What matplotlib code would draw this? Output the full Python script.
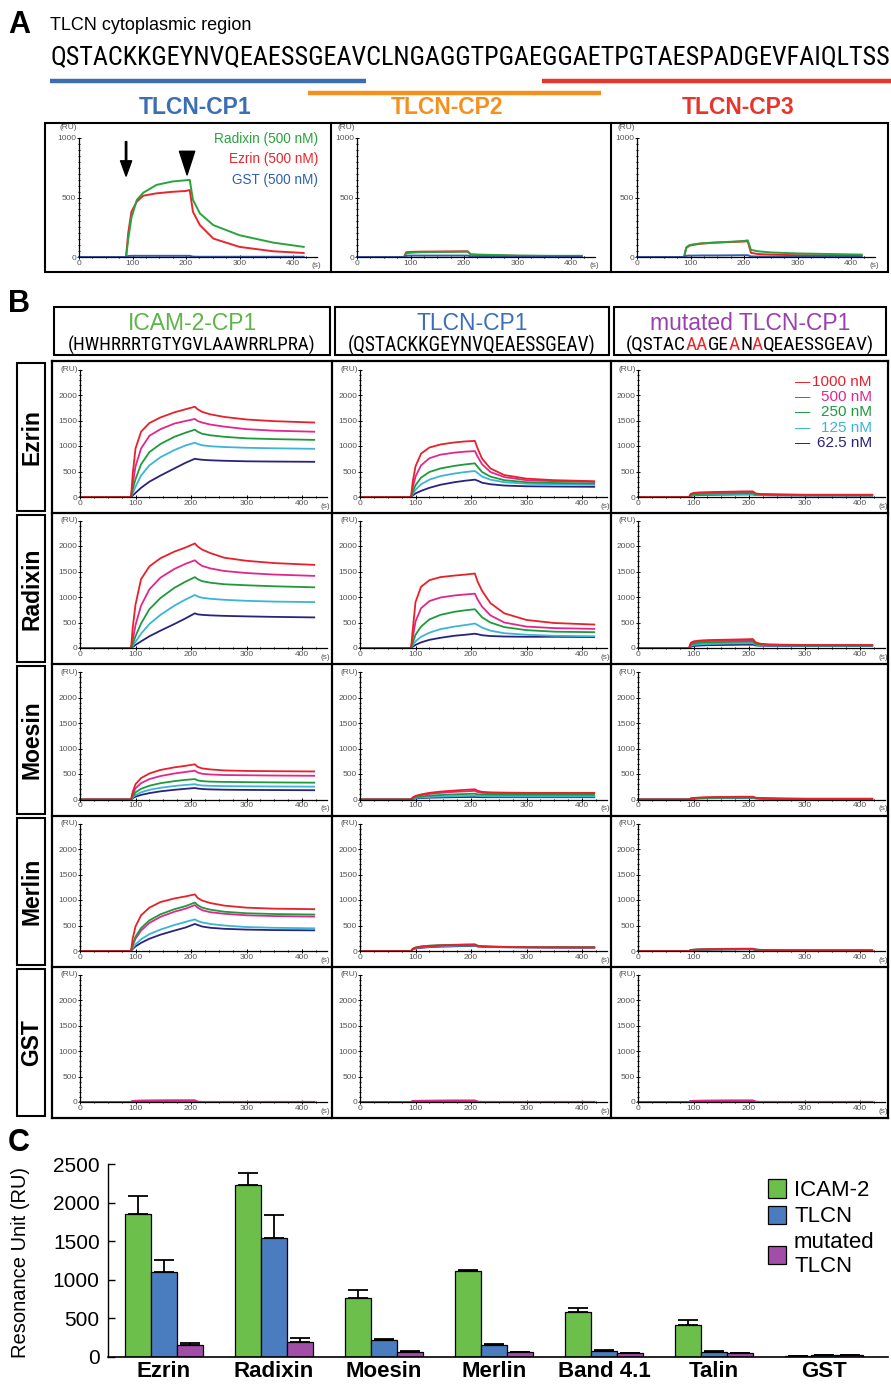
import matplotlib
matplotlib.use('Agg')
import numpy as np
import matplotlib.pyplot as plt
from matplotlib import font_manager
from matplotlib.patches import Rectangle, Patch
from matplotlib.lines import Line2D
from matplotlib.ticker import FixedLocator, FixedFormatter

# ======================= DATA =======================
SEQUENCE = "QSTACKKGEYNVQEAESSGEAVCLNGAGGTPGAEGGAETPGTAESPADGEVFAIQLTSS"
CP_NAMES = ['TLCN-CP1', 'TLCN-CP2', 'TLCN-CP3']
CP_START = [0, 18, 34]
CP_END = [22, 38, 59]

# Panel A sensorgrams (500 nM analytes)
A_LEGEND = ['Radixin (500 nM)', 'Ezrin (500 nM)', 'GST (500 nM)']
T_A = [0, 88, 92, 98, 108, 120, 145, 175, 200, 207, 213, 226, 251, 300, 363, 420]
A1_RADIXIN = [0, 0, 150, 330, 479, 540, 606, 635, 645, 648, 480, 366, 268, 183, 121, 85]
A1_EZRIN = [0, 0, 200, 380, 465, 515, 535, 548, 555, 563, 380, 268, 155, 85, 48, 34]
A1_GST = [0, 0, 8, 10, 10, 10, 10, 10, 10, 10, 3, 2, 2, 2, 2, 2]
A2_RADIXIN = [0, 0, 30, 35, 38, 40, 42, 43, 44, 44, 22, 20, 18, 12, 10, 10]
A2_EZRIN = [0, 0, 40, 42, 44, 45, 46, 47, 48, 48, 20, 18, 15, 10, 8, 8]
A2_GST = [0, 0, 10, 12, 12, 12, 12, 12, 12, 12, 5, 4, 3, 3, 3, 3]
A3_RADIXIN = [0, 0, 80, 100, 108, 115, 122, 128, 135, 140, 60, 48, 38, 30, 25, 20]
A3_EZRIN = [0, 0, 75, 95, 104, 112, 120, 126, 130, 133, 35, 25, 20, 15, 14, 14]
A3_GST = [0, 0, 10, 12, 12, 13, 13, 14, 15, 15, 5, 4, 3, 3, 3, 3]

# Panel B sensorgrams: curves ordered 1000, 500, 250, 125, 62.5 nM
B_COLUMNS = ['ICAM-2-CP1', 'TLCN-CP1', 'mutated TLCN-CP1']
B_SUBTITLES = ['(HWHRRRTGTYGVLAAWRRLPRA)', '(QSTACKKGEYNVQEAESSGEAV)']
B_ROWS = ['Ezrin', 'Radixin', 'Moesin', 'Merlin', 'GST']
CONCENTRATIONS = ['1000 nM', '500 nM', '250 nM', '125 nM', '62.5 nM']
T_B = [0, 92, 95, 100, 110, 125, 145, 170, 190, 207, 212, 220, 235, 260, 300, 350, 422]

EZ_ICAM = [[0, 0, 450, 950, 1280, 1450, 1560, 1660, 1720, 1770, 1720, 1670, 1620, 1570, 1520, 1487, 1460],
           [0, 0, 250, 600, 950, 1200, 1330, 1440, 1490, 1530, 1490, 1460, 1420, 1380, 1330, 1300, 1280],
           [0, 0, 150, 350, 640, 880, 1040, 1180, 1260, 1320, 1280, 1240, 1210, 1180, 1150, 1135, 1120],
           [0, 0, 80, 200, 420, 620, 780, 920, 1010, 1065, 1040, 1015, 995, 980, 965, 955, 945],
           [0, 0, 30, 80, 180, 300, 420, 560, 670, 750, 740, 730, 720, 710, 700, 695, 690]]
EZ_TLCN = [[0, 0, 300, 600, 850, 970, 1030, 1070, 1090, 1100, 950, 750, 560, 430, 360, 330, 310],
           [0, 0, 180, 400, 620, 760, 830, 870, 890, 900, 790, 640, 490, 390, 330, 310, 295],
           [0, 0, 100, 230, 380, 490, 560, 610, 640, 660, 590, 490, 400, 330, 290, 275, 265],
           [0, 0, 60, 140, 250, 340, 410, 460, 490, 510, 470, 400, 340, 290, 260, 250, 240],
           [0, 0, 30, 70, 120, 180, 240, 290, 320, 340, 320, 280, 250, 225, 210, 205, 200]]
EZ_MUT = [[0, 0, 60, 80, 90, 95, 100, 105, 110, 110, 70, 60, 55, 50, 45, 45, 45],
          [0, 0, 50, 65, 75, 80, 85, 88, 90, 90, 60, 55, 50, 45, 40, 40, 40],
          [0, 0, 40, 50, 60, 65, 68, 70, 72, 72, 50, 45, 40, 38, 35, 35, 35],
          [0, 0, 30, 40, 45, 50, 52, 55, 57, 57, 40, 37, 35, 33, 30, 30, 30],
          [0, 0, 25, 32, 38, 42, 45, 48, 50, 50, 40, 38, 35, 33, 30, 30, 28]]
RA_ICAM = [[0, 0, 400, 850, 1350, 1600, 1760, 1890, 1970, 2050, 1990, 1930, 1860, 1770, 1710, 1665, 1630],
           [0, 0, 150, 450, 830, 1150, 1380, 1550, 1650, 1720, 1670, 1610, 1560, 1510, 1470, 1440, 1414],
           [0, 0, 80, 230, 480, 760, 980, 1180, 1300, 1390, 1350, 1310, 1280, 1250, 1230, 1210, 1190],
           [0, 0, 40, 120, 280, 470, 650, 830, 950, 1040, 1010, 985, 965, 945, 925, 910, 900],
           [0, 0, 20, 60, 130, 230, 340, 470, 580, 680, 660, 650, 640, 630, 620, 610, 600]]
RA_TLCN = [[0, 0, 350, 900, 1200, 1330, 1390, 1420, 1440, 1460, 1300, 1120, 880, 680, 550, 490, 460],
           [0, 0, 200, 520, 780, 920, 990, 1030, 1050, 1065, 950, 810, 640, 500, 420, 390, 375],
           [0, 0, 100, 260, 420, 560, 650, 710, 740, 760, 700, 600, 500, 410, 350, 320, 310],
           [0, 0, 50, 130, 220, 300, 370, 420, 450, 480, 450, 400, 340, 290, 260, 240, 230],
           [0, 0, 25, 60, 110, 160, 200, 240, 260, 280, 270, 250, 235, 225, 220, 220, 215]]
RA_MUT = [[0, 0, 100, 130, 145, 155, 160, 165, 170, 175, 110, 85, 70, 65, 60, 60, 60],
          [0, 0, 80, 110, 125, 135, 140, 145, 150, 150, 95, 75, 65, 60, 55, 55, 55],
          [0, 0, 60, 85, 100, 110, 115, 120, 122, 125, 80, 65, 58, 55, 50, 50, 50],
          [0, 0, 40, 60, 72, 80, 85, 90, 92, 95, 65, 55, 50, 48, 45, 45, 45],
          [0, 0, 25, 40, 48, 55, 58, 62, 65, 65, 50, 45, 42, 40, 38, 38, 38]]
MO_ICAM = [[0, 0, 150, 300, 420, 510, 580, 630, 660, 690, 640, 610, 590, 570, 560, 555, 550],
           [0, 0, 100, 220, 320, 400, 460, 510, 540, 565, 530, 505, 490, 480, 475, 470, 465],
           [0, 0, 60, 140, 210, 270, 320, 360, 385, 400, 375, 360, 350, 345, 340, 335, 330],
           [0, 0, 40, 90, 140, 190, 230, 265, 285, 300, 285, 275, 268, 262, 258, 255, 252],
           [0, 0, 25, 55, 90, 125, 160, 190, 210, 225, 215, 205, 198, 192, 188, 185, 182]]
MO_TLCN = [[0, 0, 40, 70, 100, 130, 155, 175, 190, 200, 170, 150, 140, 135, 130, 130, 130],
           [0, 0, 35, 60, 85, 110, 130, 150, 160, 170, 145, 130, 122, 118, 115, 115, 115],
           [0, 0, 25, 45, 60, 75, 88, 100, 108, 115, 100, 95, 92, 90, 90, 90, 90],
           [0, 0, 15, 30, 40, 50, 58, 65, 70, 75, 68, 65, 62, 60, 60, 60, 60],
           [0, 0, 10, 20, 28, 35, 40, 45, 48, 50, 47, 45, 45, 45, 45, 45, 45]]
MO_MUT = [[0, 0, 20, 30, 38, 45, 50, 52, 55, 55, 35, 28, 22, 18, 15, 15, 15],
          [0, 0, 18, 26, 32, 38, 42, 45, 47, 47, 30, 24, 20, 16, 14, 14, 14],
          [0, 0, 15, 22, 28, 32, 35, 38, 40, 40, 28, 22, 18, 15, 12, 12, 12],
          [0, 0, 14, 20, 25, 30, 33, 36, 38, 38, 26, 20, 16, 13, 10, 10, 10],
          [0, 0, 12, 18, 22, 26, 28, 30, 32, 32, 22, 18, 15, 12, 10, 10, 10]]
ME_ICAM = [[0, 0, 250, 480, 700, 850, 960, 1030, 1070, 1110, 1040, 990, 940, 890, 850, 830, 820],
           [0, 0, 110, 240, 400, 550, 670, 770, 830, 900, 850, 800, 760, 730, 700, 685, 675],
           [0, 0, 130, 280, 450, 600, 720, 820, 880, 950, 900, 850, 810, 770, 740, 725, 715],
           [0, 0, 60, 130, 230, 330, 420, 510, 570, 620, 590, 560, 530, 500, 470, 455, 445],
           [0, 0, 40, 90, 160, 240, 320, 400, 460, 530, 510, 480, 455, 435, 420, 410, 405]]
ME_TLCN = [[0, 0, 40, 65, 85, 100, 110, 118, 122, 125, 100, 90, 85, 80, 75, 72, 70],
           [0, 0, 38, 60, 80, 95, 105, 112, 118, 120, 98, 88, 82, 78, 73, 70, 68],
           [0, 0, 45, 70, 90, 105, 115, 122, 128, 130, 105, 95, 88, 82, 78, 75, 72],
           [0, 0, 35, 55, 72, 85, 95, 102, 108, 110, 92, 85, 80, 75, 72, 70, 68],
           [0, 0, 30, 48, 62, 75, 85, 92, 98, 100, 88, 82, 78, 74, 70, 68, 66]]
ME_MUT = [[0, 0, 18, 25, 30, 35, 38, 40, 42, 42, 28, 22, 18, 15, 12, 12, 12],
          [0, 0, 16, 22, 27, 31, 34, 36, 38, 38, 25, 20, 16, 13, 11, 11, 11],
          [0, 0, 15, 20, 25, 29, 32, 34, 36, 36, 24, 19, 15, 12, 10, 10, 10],
          [0, 0, 20, 28, 34, 38, 42, 45, 47, 47, 30, 24, 19, 15, 12, 12, 12],
          [0, 0, 14, 19, 23, 26, 29, 31, 33, 33, 22, 18, 14, 11, 9, 9, 9]]
GS_ICAM = [[0, 0, 15, 20, 22, 23, 24, 25, 25, 25, 3, 2, 2, 2, 2, 2, 2],
           [0, 0, 20, 25, 27, 28, 29, 30, 30, 30, 4, 3, 3, 3, 3, 3, 3],
           [0, 0, 12, 16, 18, 19, 20, 20, 20, 20, 2, 2, 2, 2, 2, 2, 2],
           [0, 0, 10, 13, 15, 16, 17, 17, 17, 17, 2, 2, 2, 2, 2, 2, 2],
           [0, 0, 18, 22, 24, 25, 26, 27, 27, 27, 3, 2, 2, 2, 2, 2, 2]]
GS_TLCN = [[0, 0, 14, 18, 20, 21, 22, 23, 23, 23, 3, 2, 2, 2, 2, 2, 2],
           [0, 0, 18, 23, 25, 26, 27, 28, 28, 28, 4, 3, 3, 3, 3, 3, 3],
           [0, 0, 12, 15, 17, 18, 19, 19, 19, 19, 2, 2, 2, 2, 2, 2, 2],
           [0, 0, 10, 12, 14, 15, 16, 16, 16, 16, 2, 2, 2, 2, 2, 2, 2],
           [0, 0, 16, 20, 22, 23, 24, 25, 25, 25, 3, 2, 2, 2, 2, 2, 2]]
GS_MUT = [[0, 0, 14, 18, 20, 22, 23, 24, 24, 24, 3, 2, 2, 2, 2, 2, 2],
          [0, 0, 18, 24, 26, 27, 28, 29, 29, 29, 4, 3, 3, 3, 3, 3, 3],
          [0, 0, 12, 15, 17, 18, 19, 19, 19, 19, 2, 2, 2, 2, 2, 2, 2],
          [0, 0, 10, 12, 14, 15, 16, 16, 16, 16, 2, 2, 2, 2, 2, 2, 2],
          [0, 0, 16, 20, 22, 23, 24, 25, 25, 25, 3, 2, 2, 2, 2, 2, 2]]

# Panel C bar chart
C_GROUPS = ['Ezrin', 'Radixin', 'Moesin', 'Merlin', 'Band 4.1', 'Talin', 'GST']
C_SERIES = ['ICAM-2', 'TLCN', 'mutated\nTLCN']
C_ICAM2 = [1850, 2230, 770, 1120, 580, 420, 10]
C_ICAM2_ERR = [230, 150, 100, 10, 50, 60, 5]
C_TLCN = [1100, 1540, 220, 150, 80, 70, 20]
C_TLCN_ERR = [160, 300, 15, 15, 10, 10, 5]
C_MUT = [150, 200, 70, 60, 50, 50, 20]
C_MUT_ERR = [30, 40, 10, 5, 5, 5, 5]

# ======================= STYLE =======================
W, H = 891, 1388
available = {f.name for f in font_manager.fontManager.ttflist}


def pick(*names):
    for n in names:
        if n in available:
            return n
    return 'DejaVu Sans'


SANS = pick('Liberation Sans', 'Arial', 'Helvetica', 'DejaVu Sans')


def narrow_props():
    for n in ['Liberation Sans Narrow', 'DejaVu Sans Condensed', 'Roboto Condensed', 'Open Sans Condensed']:
        if n in available:
            return dict(family=[n, 'DejaVu Sans'])
    for f in font_manager.fontManager.ttflist:
        if f.name == 'DejaVu Sans' and str(f.stretch) in ('condensed', 'semi-condensed', '75', '87'):
            return dict(family=['DejaVu Sans'], fontstretch='condensed')
    return dict(family=[SANS, 'DejaVu Sans'])


NARROW = narrow_props()
plt.rcParams['font.family'] = [SANS, 'DejaVu Sans']

A_COLORS = ['#2aa33c', '#e8262b', '#2f5fb0']          # Radixin, Ezrin, GST
B_COLORS = ['#e8202a', '#e0288c', '#1e9a3c', '#3cb4d8', '#28237d']
CP_COLORS = ['#3c6eb4', '#f5901e', '#e8352b']
HEAD_COLORS = ['#5cb548', '#3c6ebe', '#9a3fae']
C_COLORS = ['#6cbf4a', '#4a7cc0', '#a24ea8']
GREY = '#555555'

fig = plt.figure(figsize=(W / 100, H / 100), dpi=100)
renderer = fig.canvas.get_renderer()


def fx(x):
    return x / W


def fy(y):
    return 1 - y / H


def ax_px(left, top, right, bottom):
    return fig.add_axes([fx(left), fy(bottom), (right - left) / W, (bottom - top) / H])


def rect_px(l, t, r, b, lw=1.5, color='black'):
    fig.add_artist(Rectangle((fx(l), fy(b)), (r - l) / W, (b - t) / H, transform=fig.transFigure,
                             fill=False, lw=lw, ec=color))


def line_px(x0, y0, x1, y1, **kw):
    fig.add_artist(Line2D([fx(x0), fx(x1)], [fy(y0), fy(y1)], transform=fig.transFigure, **kw))


def text_px(x, y, s, **kw):
    return fig.text(fx(x), fy(y), s, **kw)


def width_of(t):
    return t.get_window_extent(renderer).width


def sensorgram(x0, y0, xs, ys, ymax, ymajor, ylabels, yminor, ru_y=1.0, tmax=445):
    ax = ax_px(x0, y0 - ymax * ys, x0 + tmax * xs, y0)
    ax.set_xlim(0, tmax)
    ax.set_ylim(0, ymax)
    ax.patch.set_visible(False)
    ax.spines['top'].set_visible(False)
    ax.spines['right'].set_visible(False)
    for s in ('left', 'bottom'):
        ax.spines[s].set_linewidth(0.9)
    ax.xaxis.set_major_locator(FixedLocator([0, 100, 200, 300, 400]))
    ax.xaxis.set_minor_locator(FixedLocator([v for v in range(25, 446, 25) if v % 100]))
    ax.yaxis.set_major_locator(FixedLocator(ymajor))
    ax.yaxis.set_major_formatter(FixedFormatter(ylabels))
    ax.yaxis.set_minor_locator(FixedLocator(yminor))
    ax.tick_params(which='both', direction='inout', width=0.7, labelsize=6,
                   labelcolor=GREY, pad=0.5)
    ax.tick_params(which='major', length=3.2)
    ax.tick_params(which='minor', length=2)
    ax.text(0.995, -0.045, '(s)', transform=ax.transAxes, ha='center', va='top',
            fontsize=6, color=GREY)
    ax.text(-0.01, ru_y, '(RU)', transform=ax.transAxes, ha='right', va='center',
            fontsize=6, color=GREY)
    return ax


# ======================= PANEL A =======================
text_px(8, 25, 'A', fontsize=22, weight='bold', va='center', ha='left')
text_px(50, 26, 'TLCN cytoplasmic region', fontsize=13, va='center', ha='left')

seq_t = text_px(50, 57, SEQUENCE, fontsize=16, va='center', ha='left', **NARROW)
seq_t.set_fontsize(16 * 843 / width_of(seq_t))
seq_fp = seq_t.get_fontproperties()


def wpref(n):
    if n == 0:
        return 0.0
    return renderer.get_text_width_height_descent(SEQUENCE[:n], seq_fp, ismath=False)[0]


ul_y = [81, 93, 81]
for i in range(3):
    xa = 50 + wpref(CP_START[i])
    xb = 50 + wpref(CP_END[i]) if CP_END[i] < len(SEQUENCE) else 895
    line_px(xa, ul_y[i], xb, ul_y[i], color=CP_COLORS[i], lw=3.2, solid_capstyle='butt')

cp_x = [195, 447, 738]
for i in range(3):
    text_px(cp_x[i], 107, CP_NAMES[i], fontsize=16.5, weight='bold', color=CP_COLORS[i],
            ha='center', va='center')

rect_px(45, 123, 888, 272)
line_px(331, 123, 331, 272, color='black', lw=1.5)
line_px(611, 123, 611, 272, color='black', lw=1.5)

A_SETS = [[A1_RADIXIN, A1_EZRIN, A1_GST], [A2_RADIXIN, A2_EZRIN, A2_GST], [A3_RADIXIN, A3_EZRIN, A3_GST]]
A_YAXIS = [79, 357, 637]
for i in range(3):
    ax = sensorgram(A_YAXIS[i], 257, 0.535, 0.119, 1000, [0, 500, 1000], ['0', '500', '1000'],
                    [v for v in range(50, 1000, 50) if v % 500], ru_y=1.085)
    rad, ez, gst = A_SETS[i]
    ax.plot(T_A, ez, color=A_COLORS[1], lw=1.4, clip_on=False)
    ax.plot(T_A, rad, color=A_COLORS[0], lw=1.4, clip_on=False)
    ax.plot(T_A, gst, color=A_COLORS[2], lw=1.4, clip_on=False)
    if i == 0:
        ax.annotate('', xy=(88, 680), xytext=(88, 970),
                    arrowprops=dict(width=1.0, headwidth=8, headlength=11, color='black', shrink=0))
        ax.annotate('', xy=(202, 690), xytext=(202, 850),
                    arrowprops=dict(width=0.4, headwidth=11, headlength=17, color='black', shrink=0))

for k, lab in enumerate(A_LEGEND):
    text_px(318, 139 + 20.5 * k, lab, fontsize=9.8, color=A_COLORS[k], ha='right', va='center')

# ======================= PANEL B =======================
text_px(8, 304, 'B', fontsize=22, weight='bold', va='center', ha='left')

HEAD_BOX = [(54, 330), (335, 609), (614, 886)]
for (l, r) in HEAD_BOX:
    rect_px(l, 307, r, 355)

for i, (l, r) in enumerate(HEAD_BOX):
    text_px((l + r) / 2, 324, B_COLUMNS[i], fontsize=16.5, color=HEAD_COLORS[i],
            ha='center', va='center')

for i in range(2):
    l, r = HEAD_BOX[i]
    t = text_px((l + r) / 2, 345, B_SUBTITLES[i], fontsize=10, ha='center', va='center', **NARROW)
    t.set_fontsize(10 * 248 / width_of(t))

MUT_SEGMENTS = [('(QSTAC', 'black'), ('AA', '#e8262b'), ('GE', 'black'), ('A', '#e8262b'),
                ('N', 'black'), ('A', '#e8262b'), ('QEAESSGEAV)', 'black')]
full_mut = ''.join(s for s, _ in MUT_SEGMENTS)
tmp = text_px(0, 0, full_mut, fontsize=10, **NARROW)
fs_mut = 10 * 248 / width_of(tmp)
tmp.set_fontsize(fs_mut)
total_w = width_of(tmp)
tmp.remove()
l, r = HEAD_BOX[2]
cur = (l + r) / 2 - total_w / 2
for s, col in MUT_SEGMENTS:
    t = text_px(cur, 345, s, fontsize=fs_mut, color=col, ha='left', va='center', **NARROW)
    cur += width_of(t)

B_XAXIS = [497, 648, 799.5, 951, 1102]
ROW_EDGES = [361, 513, 664, 815.5, 967, 1118]
COL_EDGES = [52, 332, 611, 888]
B_YAXIS = [80, 360, 638]
B_DATA = [[EZ_ICAM, EZ_TLCN, EZ_MUT], [RA_ICAM, RA_TLCN, RA_MUT], [MO_ICAM, MO_TLCN, MO_MUT],
          [ME_ICAM, ME_TLCN, ME_MUT], [GS_ICAM, GS_TLCN, GS_MUT]]

for x in COL_EDGES:
    line_px(x, ROW_EDGES[0], x, ROW_EDGES[-1], color='black', lw=1.6)
for y in ROW_EDGES:
    line_px(COL_EDGES[0], y, COL_EDGES[-1], y, color='black', lw=1.6)

for r, row in enumerate(B_ROWS):
    top, bot = ROW_EDGES[r], ROW_EDGES[r + 1]
    rect_px(17, top + 2, 45, bot - 2, lw=1.5)
    text_px(31.5, (top + bot) / 2, row, fontsize=16.5, weight='bold', rotation=90,
            ha='center', va='center')
    order = [0, 2, 3, 4, 1] if row == 'GST' else [4, 3, 1, 2, 0]
    for c in range(3):
        ax = sensorgram(B_YAXIS[c], B_XAXIS[r], 0.555, 0.051, 2500,
                        [0, 500, 1000, 1500, 2000, 2500], ['0', '500', '1000', '1500', '2000', ''],
                        [v for v in range(100, 2500, 100) if v % 500])
        curves = B_DATA[r][c]
        for k in order:
            ax.plot(T_B, curves[k], color=B_COLORS[k], lw=1.3, clip_on=False)

for k, lab in enumerate(CONCENTRATIONS):
    y = 382 + 15.2 * k
    text_px(795, y, '\u2014', fontsize=11, color=B_COLORS[k], ha='left', va='center')
    text_px(872, y, lab, fontsize=11, color=B_COLORS[k], ha='right', va='center')

# ======================= PANEL C =======================
text_px(8, 1143, 'C', fontsize=22, weight='bold', va='center', ha='left')

axc = ax_px(108, 1164, 888, 1357)
xg = np.arange(len(C_GROUPS))
bw = 26 / 110
series = [(C_ICAM2, C_ICAM2_ERR), (C_TLCN, C_TLCN_ERR), (C_MUT, C_MUT_ERR)]
for k, (vals, errs) in enumerate(series):
    axc.bar(xg + (k - 1) * bw, vals, bw, color=C_COLORS[k], edgecolor='black', lw=0.9,
            yerr=[np.zeros(len(errs)), errs], label=C_SERIES[k], zorder=2,
            error_kw=dict(ecolor='black', elinewidth=1.3, capsize=7, capthick=1.3, zorder=1))
axc.set_xlim((108 - 164) / 110, (888 - 164) / 110)
axc.set_ylim(0, 2500)
axc.patch.set_visible(False)
axc.spines['top'].set_visible(False)
axc.spines['right'].set_visible(False)
axc.spines['left'].set_linewidth(1.0)
axc.spines['bottom'].set_linewidth(1.2)
axc.set_yticks([0, 500, 1000, 1500, 2000, 2500])
axc.tick_params(axis='y', direction='in', length=5, width=1, labelsize=15, pad=6)
axc.set_xticks(xg)
axc.set_xticklabels(C_GROUPS, fontsize=16, weight='bold')
axc.tick_params(axis='x', length=0, pad=3)
text_px(21, 1262, 'Resonance Unit (RU)', fontsize=14.5, rotation=90, ha='center', va='center')
handles = [Patch(facecolor=C_COLORS[k], edgecolor='black', lw=0.9) for k in range(3)]
axc.legend(handles, C_SERIES, loc='upper right', bbox_to_anchor=(1.0, 0.99), frameon=False,
           fontsize=16, handlelength=0.8, handleheight=0.9, handletextpad=0.35,
           labelspacing=0.2, borderaxespad=0.2)

fig.savefig('out.png', dpi=100)
